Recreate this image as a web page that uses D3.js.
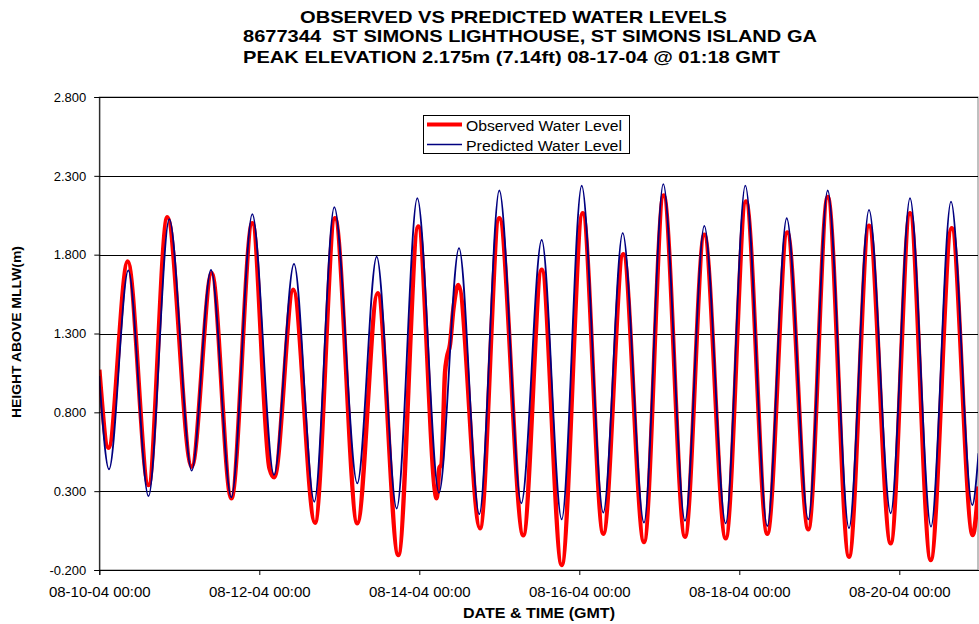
<!DOCTYPE html>
<html><head><meta charset="utf-8">
<script src="https://cdn.jsdelivr.net/npm/d3@7"></script>
<style>
body{margin:0;background:#fff;}
svg{display:block;font-family:"Liberation Sans",Arial,Helvetica,sans-serif;}
</style>
</head><body>
<svg id="chart" width="979" height="624"></svg>
<script>
// ---- DATA ----
const titleLines = [
  "OBSERVED VS PREDICTED WATER LEVELS",
  "8677344  ST SIMONS LIGHTHOUSE, ST SIMONS ISLAND GA",
  "PEAK ELEVATION 2.175m (7.14ft) 08-17-04 @ 01:18 GMT"
];
const seriesNames = ["Observed Water Level", "Predicted Water Level"];
const xAxisTitle = "DATE & TIME (GMT)";
const yAxisTitle = "HEIGHT ABOVE MLLW(m)";
const yTicks = [-0.2, 0.3, 0.8, 1.3, 1.8, 2.3, 2.8];
const xTickDays = [0, 2, 4, 6, 8, 10];
const spanDays = 11;

// hours since 08-10-04 00:00 GMT, water level (m)
const obsHours = [0, 2.76, 8.52, 14.76, 20.4, 27.72, 33.72, 39.6, 45.9, 51.06, 52.5, 58.2, 64.71, 70.71, 77.4, 83.52, 89.7, 95.7,
  101.22, 102.06, 102.66, 103.71, 104.31, 105.21, 106.2, 107.7, 114.21, 120.0, 127.2, 132.72, 138.72, 145.02, 151.2, 157.2,
  163.41, 169.3, 175.71, 181.5, 187.92, 194.01, 200.4, 206.4, 212.7, 218.52, 224.91, 230.91, 237.42, 243.21, 249.42, 255.72, 262.02, 263.76];
const obsLevels = [1.07, 0.575, 1.756, 0.339, 2.038, 0.455, 1.683, 0.255, 2.0, 0.445, 0.388, 1.577, 0.10, 2.031, 0.096, 1.556, -0.105, 1.978,
  0.255, 0.45, 0.47, 1.05, 1.15, 1.23, 1.45, 1.608, 0.065, 2.031, 0.02, 1.704, -0.168, 2.063, 0.03, 1.803,
  -0.023, 2.175, 0.011, 1.926, 0.001, 2.137, 0.03, 1.94, 0.058, 2.165, -0.116, 1.983, -0.031, 2.063, -0.137, 1.968, 0.022, 0.33];

const predHours = [0, 2.91, 8.7, 14.76, 21.0, 27.72, 33.51, 39.6, 45.9, 52.41, 58.41, 64.5, 70.5, 77.4, 83.22, 89.22, 95.4,
  101.91, 107.91, 114.0, 120.0, 126.6, 132.72, 138.72, 144.72, 151.2, 157.02, 163.41, 169.2, 175.71, 181.5, 187.92, 193.8,
  200.4, 206.22, 212.7, 218.52, 224.91, 230.91, 237.42, 243.21, 249.51, 255.51, 261.9, 263.76];
const predLevels = [1.03, 0.439, 1.70, 0.268, 2.025, 0.43, 1.704, 0.261, 2.057, 0.403, 1.742, 0.233, 2.101, 0.35, 1.788, 0.19, 2.158,
  0.29, 1.841, 0.154, 2.207, 0.223, 1.894, 0.121, 2.237, 0.164, 1.936, 0.10, 2.247, 0.111, 1.983, 0.096, 2.238,
  0.079, 2.031, 0.121, 2.207, 0.065, 2.084, 0.16, 2.158, 0.075, 2.137, 0.212, 0.54];

// ---- CHART ----
const t0 = Date.UTC(2004, 7, 10, 0, 0);
const HOUR = 3600000, DAY = 86400000;
const svg = d3.select("#chart");
const L = 99.3, R = 979.3, T = 97, B = 570;

const x = d3.scaleUtc().domain([new Date(t0), new Date(t0 + spanDays * DAY)]).range([L, R]);
const y = d3.scaleLinear().domain([-0.2, 2.8]).range([B, T]);

const obs = obsHours.map((h, i) => ({ t: new Date(t0 + h * HOUR), v: obsLevels[i] }));
const pred = predHours.map((h, i) => ({ t: new Date(t0 + h * HOUR), v: predLevels[i] }));

svg.append("defs").append("clipPath").attr("id", "clip")
  .append("rect").attr("x", L).attr("y", T - 5).attr("width", 978 - L).attr("height", B - T + 10);

// plot border
svg.append("rect").attr("x", L).attr("y", T).attr("width", 978 - L).attr("height", B - T)
  .attr("fill", "none").attr("stroke", "#808080").attr("stroke-width", 1);

// gridlines
svg.append("g").selectAll("line").data(yTicks).join("line")
  .attr("x1", L).attr("x2", 978)
  .attr("y1", d => Math.round(y(d)) + 0.5).attr("y2", d => Math.round(y(d)) + 0.5)
  .attr("stroke", "#000").attr("stroke-width", 1);

// lines
const line = d3.line().x(d => x(d.t)).y(d => y(d.v)).curve(d3.curveMonotoneX);
const gl = svg.append("g").attr("clip-path", "url(#clip)");
gl.append("path").datum(obs).attr("d", line).attr("fill", "none")
  .attr("stroke", "#ff0000").attr("stroke-width", 4.5).attr("stroke-linejoin", "round");
gl.append("path").datum(pred).attr("d", line).attr("fill", "none")
  .attr("stroke", "#000080").attr("stroke-width", 1.8).attr("stroke-linejoin", "round");

// axes
const yAxis = svg.append("g").attr("transform", `translate(${L},0)`)
  .call(d3.axisLeft(y).tickValues(yTicks).tickFormat(d => d3.format(".3f")(d).replace("−", "-")).tickSize(5).tickPadding(8));
yAxis.selectAll("text").attr("font-size", 13).attr("fill", "#000").attr("font-family", null);
yAxis.selectAll("line,path").attr("stroke", "#000");

const xAxis = svg.append("g").attr("transform", `translate(0,${B})`)
  .call(d3.axisBottom(x).tickValues(xTickDays.map(d => new Date(t0 + d * DAY)))
    .tickFormat(d3.utcFormat("%m-%d-%y %H:%M")).tickSize(5).tickPadding(11));
xAxis.selectAll("text").attr("font-size", 15).attr("fill", "#000").attr("font-family", null);
xAxis.selectAll("line,path").attr("stroke", "#000");

// titles
const titleX = [300, 243, 243], titleY = [23, 42, 63], titleW = [427, 574, 537];
svg.append("g").selectAll("text").data(titleLines).join("text")
  .attr("x", (d, i) => titleX[i]).attr("y", (d, i) => titleY[i])
  .attr("font-size", 17).attr("font-weight", "bold")
  .attr("textLength", (d, i) => titleW[i]).attr("lengthAdjust", "spacingAndGlyphs")
  .style("white-space", "pre").text(d => d);

svg.append("text").attr("x", 539).attr("y", 618).attr("text-anchor", "middle")
  .attr("font-size", 14).attr("font-weight", "bold")
  .attr("textLength", 152).attr("lengthAdjust", "spacingAndGlyphs").text(xAxisTitle);
svg.append("text").attr("transform", "translate(21,332) rotate(-90)").attr("text-anchor", "middle")
  .attr("font-size", 12).attr("font-weight", "bold")
  .attr("textLength", 172).attr("lengthAdjust", "spacingAndGlyphs").text(yAxisTitle);

// legend
const lg = svg.append("g");
lg.append("rect").attr("x", 423.5).attr("y", 115.5).attr("width", 206).attr("height", 38)
  .attr("fill", "#fff").attr("stroke", "#000");
const legColors = ["#ff0000", "#000080"], legW = [4, 1.5];
seriesNames.forEach((n, i) => {
  const yy = 124.5 + i * 20;
  lg.append("line").attr("x1", 427).attr("x2", 462).attr("y1", yy).attr("y2", yy)
    .attr("stroke", legColors[i]).attr("stroke-width", legW[i]);
  lg.append("text").attr("x", 466).attr("y", yy + 6).attr("font-size", 15.5)
    .attr("textLength", 156).attr("lengthAdjust", "spacingAndGlyphs").text(n);
});
</script>
</body></html>
